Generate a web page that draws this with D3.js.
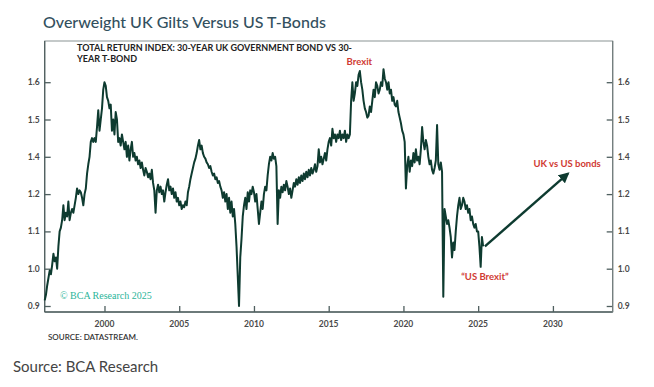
<!DOCTYPE html>
<html>
<head>
<meta charset="utf-8">
<script src="https://cdn.jsdelivr.net/npm/d3@7"></script>
<style>
  html, body { margin: 0; padding: 0; background: #fff; }
  svg { display: block; }
</style>
</head>
<body>
<svg id="chart" width="654" height="387"></svg>
<script>
// ---- DATA (monthly, starting Jan 1996) ----
const startYear = 1996;
const values = [
  0.915, 0.93, 0.955, 0.975, 0.995, 0.985, 1.01, 1.04, 1.02, 1.03, 1.00, 1.06,
  1.10, 1.11, 1.13, 1.17, 1.13, 1.15, 1.14, 1.18, 1.13, 1.15, 1.16, 1.15,
  1.17, 1.19, 1.23, 1.20, 1.22, 1.21, 1.19, 1.17, 1.20, 1.23, 1.31, 1.36,
  1.40, 1.44, 1.45, 1.44, 1.45, 1.44, 1.48, 1.525, 1.47, 1.50, 1.53, 1.58,
  1.60, 1.59, 1.56, 1.55, 1.53, 1.54, 1.47, 1.50, 1.46, 1.52, 1.50, 1.44,
  1.45, 1.43, 1.46, 1.44, 1.42, 1.44, 1.40, 1.43, 1.38, 1.42, 1.44, 1.40,
  1.41, 1.38, 1.40, 1.36, 1.38, 1.34, 1.37, 1.33, 1.30, 1.34, 1.32, 1.29,
  1.31, 1.28, 1.33, 1.26, 1.22, 1.15, 1.22, 1.25, 1.21, 1.24, 1.20, 1.22,
  1.18, 1.21, 1.25, 1.28, 1.22, 1.24, 1.20, 1.23, 1.19, 1.21, 1.18, 1.19,
  1.17, 1.18, 1.16, 1.17, 1.165, 1.18, 1.17, 1.21, 1.24, 1.28, 1.31, 1.34,
  1.37, 1.39, 1.41, 1.43, 1.445, 1.42, 1.43, 1.41, 1.40, 1.39, 1.37, 1.36,
  1.34, 1.35, 1.32, 1.30, 1.31, 1.28, 1.29, 1.26, 1.27, 1.24, 1.22, 1.19,
  1.21, 1.18, 1.20, 1.16, 1.19, 1.15, 1.18, 1.14, 1.16, 1.12, 1.06, 0.98,
  0.90, 1.03, 1.08, 1.14, 1.17, 1.19, 1.16, 1.21, 1.18, 1.22, 1.20, 1.24,
  1.21, 1.18, 1.20, 1.16, 1.12, 1.15, 1.18, 1.16, 1.20, 1.24, 1.22, 1.30,
  1.36, 1.40, 1.38, 1.41, 1.39, 1.40, 1.35, 1.12, 1.22, 1.19, 1.24, 1.21,
  1.25, 1.22, 1.27, 1.24, 1.20, 1.23, 1.19, 1.22, 1.26, 1.24, 1.28, 1.25,
  1.29, 1.26, 1.30, 1.27, 1.31, 1.28, 1.32, 1.29, 1.33, 1.30, 1.34, 1.31,
  1.33, 1.36, 1.32, 1.35, 1.42, 1.37, 1.40, 1.36, 1.39, 1.41, 1.38, 1.42,
  1.44, 1.45, 1.43, 1.475, 1.45, 1.46, 1.44, 1.46, 1.45, 1.47, 1.445, 1.46,
  1.45, 1.47, 1.44, 1.46, 1.45, 1.46, 1.55, 1.60, 1.55, 1.57, 1.60, 1.59,
  1.62, 1.63, 1.60, 1.58, 1.55, 1.53, 1.52, 1.505, 1.51, 1.535, 1.52, 1.55,
  1.58, 1.56, 1.60, 1.59, 1.57, 1.58, 1.60, 1.59, 1.635, 1.61, 1.60, 1.58,
  1.60, 1.57, 1.58, 1.55, 1.56, 1.54, 1.535, 1.55, 1.52, 1.505, 1.49, 1.47,
  1.46, 1.44, 1.23, 1.35, 1.40, 1.32, 1.38, 1.35, 1.41, 1.37, 1.42, 1.38,
  1.40, 1.36, 1.42, 1.48, 1.44, 1.42, 1.445, 1.43, 1.40, 1.36, 1.38, 1.33,
  1.31, 1.34, 1.38, 1.485, 1.36, 1.33, 1.37, 1.32, 0.925, 1.16, 1.14, 1.12,
  1.13, 1.11, 1.085, 1.03, 1.07, 1.05, 1.10, 1.14, 1.17, 1.19, 1.16, 1.17,
  1.19, 1.18, 1.16, 1.17, 1.15, 1.16, 1.13, 1.14, 1.12, 1.11, 1.12, 1.10,
  1.10, 1.06, 1.005, 1.085, 1.06
];
const yTicks = [0.9, 1.0, 1.1, 1.2, 1.4, 1.5, 1.6];
const yTickLabels = ["0.9", "1.0", "1.1", "1.2", "1.4", "1.5", "1.6"];
const xTicks = [2000, 2005, 2010, 2015, 2020, 2025, 2030];
const xDomain = [1996, 2034];
const annotations = [
  { text: "Brexit", year: 2017.05, value: 1.646 },
  { text: "UK vs US bonds", year: 2030.95, value: 1.343 },
  { text: "\u201CUS Brexit\u201D", year: 2025.45, value: 0.97 }
];
const arrowFrom = [2025.45, 1.06];
const arrowTo = [2031.0, 1.31];

// ---- LAYOUT ----
(function () {
const svg = d3.select("#chart");
const pL = 44.7, pR = 612.7, pT = 41, pB = 312;
const y09 = 306, tickStep = 37.3;

const x = d3.scaleLinear().domain(xDomain).range([pL, pR]);
const y = d3.scaleLinear().domain(yTicks).range(yTicks.map((d, i) => y09 - i * tickStep));

const data = values.map((v, i) => ({ t: startYear + i / 12, v }));

const axisColor = "#4f5f5f";
const labelFont = "Lato, 'Open Sans', sans-serif";

// Title
svg.append("text").attr("x", 43).attr("y", 28)
  .attr("font-family", labelFont).attr("font-size", 16).attr("font-weight", 500)
  .attr("fill", "#33505e").text("Overweight UK Gilts Versus US T-Bonds");

// Frame
svg.append("rect").attr("x", pL).attr("y", pT)
  .attr("width", pR - pL).attr("height", pB - pT)
  .attr("fill", "#fff").attr("stroke", "#8a9494").attr("stroke-width", 1);

// Axes
const gL = svg.append("g").attr("transform", `translate(${pL},0)`)
  .call(d3.axisRight(y).tickValues(yTicks).tickSize(6).tickFormat(() => ""));
const gR = svg.append("g").attr("transform", `translate(${pR},0)`)
  .call(d3.axisLeft(y).tickValues(yTicks).tickSize(6).tickFormat(() => ""));
const gB = svg.append("g").attr("transform", `translate(0,${pB})`)
  .call(d3.axisTop(x).tickValues(xTicks).tickSize(6).tickFormat(() => ""));
[gL, gR, gB].forEach(g => {
  g.select(".domain").remove();
  g.selectAll(".tick line").attr("stroke", axisColor).attr("stroke-width", 1.3);
});
svg.append("line").attr("x1", pL).attr("x2", pL).attr("y1", pT).attr("y2", pB)
  .attr("stroke", axisColor).attr("stroke-width", 1.3);
svg.append("line").attr("x1", pL).attr("x2", pR).attr("y1", pB).attr("y2", pB)
  .attr("stroke", axisColor).attr("stroke-width", 1.3);
svg.append("line").attr("x1", pR).attr("x2", pR).attr("y1", pT).attr("y2", pB)
  .attr("stroke", "#6f7b7b").attr("stroke-width", 1.2);

// Tick labels
yTicks.forEach((d, i) => {
  svg.append("text").attr("x", pL - 5).attr("y", y(d) + 3)
    .attr("text-anchor", "end").attr("font-family", labelFont).attr("font-size", 8.5)
    .attr("font-weight", 700).attr("fill", "#4a4a4a").text(yTickLabels[i]);
  svg.append("text").attr("x", pR + 5).attr("y", y(d) + 3)
    .attr("text-anchor", "start").attr("font-family", labelFont).attr("font-size", 8.5)
    .attr("font-weight", 700).attr("fill", "#4a4a4a").text(yTickLabels[i]);
});
xTicks.forEach(d => {
  svg.append("text").attr("x", x(d)).attr("y", pB + 14.5)
    .attr("text-anchor", "middle").attr("font-family", labelFont).attr("font-size", 8.5)
    .attr("font-weight", 700).attr("fill", "#4a4a4a").text(d);
});

// Inner title
svg.append("text").attr("x", 77).attr("y", 51)
  .attr("font-family", labelFont).attr("font-size", 9).attr("font-weight", 700)
  .attr("fill", "#222").text("TOTAL RETURN INDEX: 30-YEAR UK GOVERNMENT BOND VS 30-");
svg.append("text").attr("x", 77).attr("y", 62)
  .attr("font-family", labelFont).attr("font-size", 9).attr("font-weight", 700)
  .attr("fill", "#222").text("YEAR T-BOND");

// Line
const line = d3.line().x(d => x(d.t)).y(d => y(d.v));
svg.append("path").datum(data).attr("d", line)
  .attr("fill", "none").attr("stroke", "#0e3b30").attr("stroke-width", 2)
  .attr("stroke-linejoin", "round");

// Watermark
svg.append("text").attr("x", 60).attr("y", 298.5)
  .attr("font-family", "'Liberation Serif', 'DejaVu Serif', serif").attr("font-size", 10)
  .attr("fill", "#2bb59a").text("\u00A9 BCA Research 2025");

// Annotations
annotations.forEach(a => {
  svg.append("text").attr("x", x(a.year)).attr("y", y(a.value))
    .attr("text-anchor", "middle").attr("font-family", labelFont).attr("font-size", 9.5)
    .attr("font-weight", 700).attr("fill", "#d03a33").text(a.text);
});

// Arrow
svg.append("defs").append("marker").attr("id", "ah")
  .attr("viewBox", "0 0 10 10").attr("refX", 8).attr("refY", 5)
  .attr("markerWidth", 4.5).attr("markerHeight", 4.5).attr("orient", "auto")
  .append("path").attr("d", "M0,0 L10,5 L0,10 z").attr("fill", "#0e3b30");
svg.append("line")
  .attr("x1", x(arrowFrom[0])).attr("y1", y(arrowFrom[1]))
  .attr("x2", x(arrowTo[0])).attr("y2", y(arrowTo[1]))
  .attr("stroke", "#0e3b30").attr("stroke-width", 2.4).attr("marker-end", "url(#ah)");

// Sources
svg.append("text").attr("x", 48).attr("y", 340)
  .attr("font-family", labelFont).attr("font-size", 8).attr("font-weight", 600)
  .attr("fill", "#333").text("SOURCE: DATASTREAM.");
svg.append("text").attr("x", 13).attr("y", 372)
  .attr("font-family", labelFont).attr("font-size", 15)
  .attr("fill", "#444").text("Source: BCA Research");
})();
</script>
</body>
</html>
